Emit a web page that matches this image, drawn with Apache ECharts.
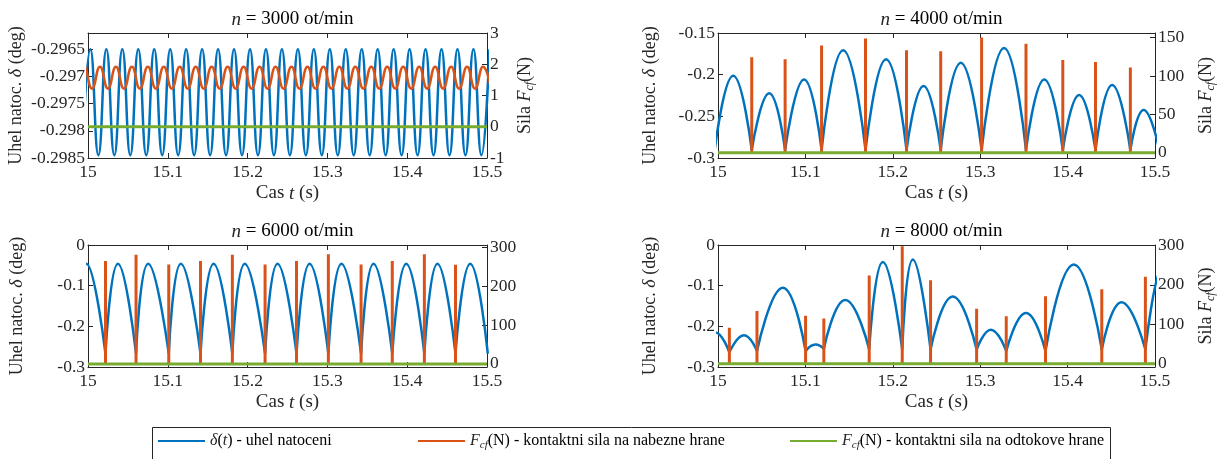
<!DOCTYPE html>
<html>
<head>
<meta charset="utf-8">
<script src="https://cdn.jsdelivr.net/npm/echarts@6/dist/echarts.min.js"></script>
<style>
html, body { margin: 0; padding: 0; background: #fff; }
#chart { width: 1223px; height: 459px; }
</style>
</head>
<body>
<div id="chart"></div>
<script>
// tick labels
var timeTicks = [15, 15.1, 15.2, 15.3, 15.4, 15.5];
var delta3000Ticks = [-0.2985, -0.298, -0.2975, -0.297, -0.2965];
var force3000Ticks = [-1, 0, 1, 2, 3];
var delta4000Ticks = [-0.3, -0.25, -0.2, -0.15];
var force4000Ticks = [0, 50, 100, 150];
var deltaTicks = [-0.3, -0.2, -0.1, 0];
var forceTicks = [0, 100, 200, 300];

// n = 3000 ot/min : extremes of the oscillations
var delta3000PeakT = [15.003, 15.023, 15.043, 15.063, 15.083, 15.103, 15.123, 15.143, 15.163, 15.183, 15.203, 15.223, 15.243,
    15.263, 15.283, 15.303, 15.323, 15.343, 15.363, 15.383, 15.403, 15.423, 15.443, 15.463, 15.483, 15.503];
var delta3000TroughT = [14.993, 15.013, 15.033, 15.053, 15.073, 15.093, 15.113, 15.133, 15.153, 15.173, 15.193, 15.213, 15.233,
    15.253, 15.273, 15.293, 15.313, 15.333, 15.353, 15.373, 15.393, 15.413, 15.433, 15.453, 15.473, 15.493];
var delta3000Peak = -0.2965;
var delta3000Trough = -0.29845;
var force3000PeakT = [14.995, 15.015, 15.035, 15.055, 15.075, 15.095, 15.115, 15.135, 15.155, 15.175, 15.195, 15.215, 15.235,
    15.255, 15.275, 15.295, 15.315, 15.335, 15.355, 15.375, 15.395, 15.415, 15.435, 15.455, 15.475, 15.495];
var force3000TroughT = [14.985, 15.005, 15.025, 15.045, 15.065, 15.085, 15.105, 15.125, 15.145, 15.165, 15.185, 15.205, 15.225,
    15.245, 15.265, 15.285, 15.305, 15.325, 15.345, 15.365, 15.385, 15.405, 15.425, 15.445, 15.465, 15.485, 15.505];
var force3000Peak = 1.92;
var force3000Trough = 1.22;

// n = 4000 ot/min : impacts (cusps) and arc tops
var cusp4000T = [14.9962, 15.0386, 15.0768, 15.1185, 15.1688, 15.2157, 15.2548, 15.3016, 15.3524, 15.3945, 15.4319, 15.4718, 15.505];
var cusp4000V = -0.2905;
var peak4000T = [15.0174, 15.0586, 15.0985, 15.1432, 15.1923, 15.2352, 15.2778, 15.3273, 15.3733, 15.4132, 15.451, 15.487];
var peak4000V = [-0.2013, -0.2224, -0.2057, -0.1707, -0.1814, -0.2137, -0.1858, -0.168, -0.2057, -0.2244, -0.2125, -0.2423];
var force4000T = [15.0386, 15.0768, 15.1185, 15.1688, 15.2157, 15.2548, 15.3016, 15.3524, 15.3945, 15.4319, 15.4718];
var force4000V = [124.5, 121.8, 139.7, 148.7, 133.4, 132.1, 150, 142, 120.9, 118.2, 111];

// n = 6000 ot/min
var cusp6000T = [14.982, 15.0219, 15.0602, 15.1012, 15.141, 15.1809, 15.2219, 15.2613, 15.3012, 15.3422, 15.3813, 15.4215, 15.4605, 15.501];
var cusp6000V = -0.267;
var peak6000T = [14.998, 15.0375, 15.0754, 15.1164, 15.1574, 15.1965, 15.2375, 15.2777, 15.3176, 15.3578, 15.3988, 15.4379, 15.479];
var peak6000V = [-0.046, -0.046, -0.046, -0.046, -0.046, -0.046, -0.046, -0.046, -0.046, -0.046, -0.046, -0.046, -0.046];
var force6000T = [15.0219, 15.0602, 15.1012, 15.141, 15.1809, 15.2219, 15.2613, 15.3012, 15.3422, 15.3813, 15.4215, 15.4605];
var force6000V = [265, 281, 256, 265, 281, 256, 265, 282, 256, 265, 282, 255];

// n = 8000 ot/min
var cusp8000T = [14.983, 15.013, 15.0446, 15.1002, 15.1211, 15.173, 15.2108, 15.2432, 15.2959, 15.3298, 15.3747, 15.4391, 15.489, 15.53];
var cusp8000V = [-0.262, -0.264, -0.261, -0.261, -0.255, -0.257, -0.257, -0.257, -0.257, -0.261, -0.261, -0.257, -0.257, -0.257];
var peak8000T = [14.997, 15.0298, 15.0742, 15.1117, 15.1456, 15.1886, 15.2229, 15.2686, 15.3122, 15.3524, 15.4071, 15.4617, 15.51];
var peak8000V = [-0.215, -0.222, -0.1049, -0.2447, -0.135, -0.0415, -0.0358, -0.1268, -0.2081, -0.1675, -0.048, -0.1407, -0.05];
var force8000T = [15.013, 15.0446, 15.1002, 15.1211, 15.173, 15.2108, 15.2432, 15.2959, 15.3298, 15.3747, 15.4391, 15.489];
var force8000V = [91.7, 133.9, 121.5, 114.9, 224, 298, 211.6, 139.7, 120.7, 171, 189, 220.7];

// rear edge contact force is zero over the whole window
var rearT = [15, 15.5];
var rearV = [0, 0];

var C_BLUE = '#0072BD', C_ORANGE = '#D95319', C_GREEN = '#77AC30', C_AX = '#262626';
var FONT = 'Liberation Serif';

function extremes(peakT, peakV, troughT, troughV) {
    var pts = peakT.map(function (t) { return [t, peakV]; })
        .concat(troughT.map(function (t) { return [t, troughV]; }));
    pts.sort(function (a, b) { return a[0] - b[0]; });
    return pts;
}

// every arc is its own segment so the impacts stay sharp
function arcs(cuspT, cuspV, peakT, peakV) {
    var pts = [];
    for (var i = 0; i < peakT.length; i++) {
        var v0 = Array.isArray(cuspV) ? cuspV[i] : cuspV;
        var v1 = Array.isArray(cuspV) ? cuspV[i + 1] : cuspV;
        pts.push([cuspT[i], v0], [peakT[i], peakV[i]], [cuspT[i + 1], v1], [cuspT[i + 1], null]);
    }
    return pts;
}

function spikes(t, f) {
    var pts = [];
    t.forEach(function (x, i) { pts.push([x, 0], [x, f[i]], [x, null]); });
    return pts;
}

function rearLine() {
    return rearT.map(function (t, i) { return [t, rearV[i]]; });
}

function fmt(v) { return String(Math.round(v * 10000) / 10000); }

function rich(size) {
    return {
        i: { fontFamily: FONT, fontSize: size, fontStyle: 'italic', color: C_AX, lineHeight: size + 4 },
        s: { fontFamily: FONT, fontSize: Math.round(size * 0.68), fontStyle: 'italic', color: C_AX,
             lineHeight: Math.round(size * 0.68), verticalAlign: 'bottom' }
    };
}

var panels = [
    { n: '3000', left: 88, top: 33, width: 399, height: 125,
      yL: [-0.2985, -0.2962], yLTicks: delta3000Ticks, yR: [-1, 3], yRTicks: force3000Ticks,
      leftGap: 60, rightGap: 27, rightName: true,
      delta: extremes(delta3000PeakT, delta3000Peak, delta3000TroughT, delta3000Trough),
      force: extremes(force3000PeakT, force3000Peak, force3000TroughT, force3000Trough), smoothForce: true },
    { n: '4000', left: 718, top: 33, width: 437, height: 125,
      yL: [-0.3, -0.15], yLTicks: delta4000Ticks, yR: [-7, 156], yRTicks: force4000Ticks,
      leftGap: 57, rightGap: 40, rightName: true,
      delta: arcs(cusp4000T, cusp4000V, peak4000T, peak4000V),
      force: spikes(force4000T, force4000V), smoothForce: false },
    { n: '6000', left: 88, top: 245, width: 399, height: 122,
      yL: [-0.3, 0], yLTicks: deltaTicks, yR: [-8, 306], yRTicks: forceTicks,
      leftGap: 60, rightGap: 40, rightName: false,
      delta: arcs(cusp6000T, cusp6000V, peak6000T, peak6000V),
      force: spikes(force6000T, force6000V), smoothForce: false },
    { n: '8000', left: 718, top: 245, width: 437, height: 122,
      yL: [-0.3, 0], yLTicks: deltaTicks, yR: [-8, 301], yRTicks: forceTicks,
      leftGap: 57, rightGap: 40, rightName: true,
      delta: arcs(cusp8000T, cusp8000V, peak8000T, peak8000V),
      force: spikes(force8000T, force8000V), smoothForce: false }
];

var grids = [], xAxes = [], yAxes = [], series = [], titles = [];
var axisLine = { show: true, onZero: false, lineStyle: { color: C_AX, width: 1 } };
var labelStyle = { fontFamily: FONT, fontSize: 17.5, color: C_AX, formatter: fmt };
var xNameStyle = { fontFamily: FONT, fontSize: 19, color: C_AX, lineHeight: 22, rich: rich(19) };
var yNameStyle = { fontFamily: FONT, fontSize: 18, color: C_AX, lineHeight: 22, rich: rich(18) };

panels.forEach(function (p, i) {
    grids.push({ left: p.left, top: p.top, width: p.width, height: p.height, show: false });
    titles.push({
        text: '{i|n} = ' + p.n + ' ot/min', left: p.left + p.width / 2, top: p.top - 30, textAlign: 'center',
        textStyle: { fontFamily: FONT, fontSize: 19, fontWeight: 'normal', color: '#000', rich: rich(19) }
    });
    var tick = function (vals) {
        return { show: true, inside: true, length: 5, customValues: vals, lineStyle: { color: C_AX } };
    };
    xAxes.push({
        gridIndex: i, type: 'value', position: 'bottom', min: 15, max: 15.5,
        axisLine: axisLine, axisTick: tick(timeTicks), splitLine: { show: false },
        axisLabel: Object.assign({ customValues: timeTicks, margin: 5 }, labelStyle),
        name: 'Cas {i|t} (s)', nameLocation: 'middle', nameGap: 24, nameTextStyle: xNameStyle
    });
    xAxes.push({
        gridIndex: i, type: 'value', position: 'top', min: 15, max: 15.5,
        axisLine: axisLine, axisTick: tick(timeTicks), splitLine: { show: false }, axisLabel: { show: false }
    });
    yAxes.push({
        gridIndex: i, type: 'value', position: 'left', min: p.yL[0], max: p.yL[1],
        axisLine: axisLine, axisTick: tick(p.yLTicks), splitLine: { show: false },
        axisLabel: Object.assign({ customValues: p.yLTicks, margin: 3 }, labelStyle),
        name: 'Uhel natoc. {i|δ} (deg)', nameLocation: 'middle', nameRotate: 90, nameGap: p.leftGap,
        nameTextStyle: yNameStyle
    });
    yAxes.push({
        gridIndex: i, type: 'value', position: 'right', min: p.yR[0], max: p.yR[1],
        axisLine: axisLine, axisTick: tick(p.yRTicks), splitLine: { show: false },
        axisLabel: Object.assign({ customValues: p.yRTicks, margin: 3 }, labelStyle),
        name: p.rightName ? 'Sila {i|F}{s|cf}(N)' : '', nameLocation: 'middle', nameRotate: 90, nameGap: p.rightGap,
        nameTextStyle: yNameStyle
    });
    series.push({
        type: 'line', name: 'delta', xAxisIndex: 2 * i, yAxisIndex: 2 * i, data: p.delta,
        smooth: true, symbol: 'none', color: C_BLUE, lineStyle: { width: 2.5, color: C_BLUE }, z: 2
    });
    series.push({
        type: 'line', name: 'nabezne', xAxisIndex: 2 * i, yAxisIndex: 2 * i + 1, data: p.force,
        smooth: p.smoothForce, symbol: 'none', color: C_ORANGE,
        lineStyle: { width: p.smoothForce ? 2.5 : 3, color: C_ORANGE, cap: 'butt' }, z: 3
    });
    series.push({
        type: 'line', name: 'odtokove', xAxisIndex: 2 * i, yAxisIndex: 2 * i + 1, data: rearLine(),
        symbol: 'none', color: C_GREEN, lineStyle: { width: 3, color: C_GREEN }, z: 4
    });
});

var legendText = {
    delta: '{i|δ}({i|t}) - uhel natoceni',
    nabezne: '{i|F}{s|cf}(N) - kontaktni sila na nabezne hrane',
    odtokove: '{i|F}{s|cf}(N) - kontaktni sila na odtokove hrane'
};
var legendPos = { delta: 158, nabezne: 418, odtokove: 790 };
var legends = Object.keys(legendText).map(function (name) {
    return {
        data: [name], left: legendPos[name], top: 431, icon: 'rect', itemWidth: 47, itemHeight: 2, itemGap: 0,
        padding: 0, selectedMode: false,
        formatter: function (n) { return legendText[n]; },
        textStyle: { fontFamily: FONT, fontSize: 16, color: '#000', lineHeight: 20, rich: rich(16) }
    };
});

var myChart = echarts.init(document.getElementById('chart'));
myChart.setOption({
    animation: false,
    backgroundColor: '#fff',
    title: titles,
    grid: grids,
    xAxis: xAxes,
    yAxis: yAxes,
    legend: legends,
    graphic: [{
        type: 'rect', left: 150, top: 425, shape: { width: 958, height: 32 },
        style: { fill: 'none', stroke: C_AX, lineWidth: 1 }
    }],
    series: series
});
</script>
</body>
</html>
